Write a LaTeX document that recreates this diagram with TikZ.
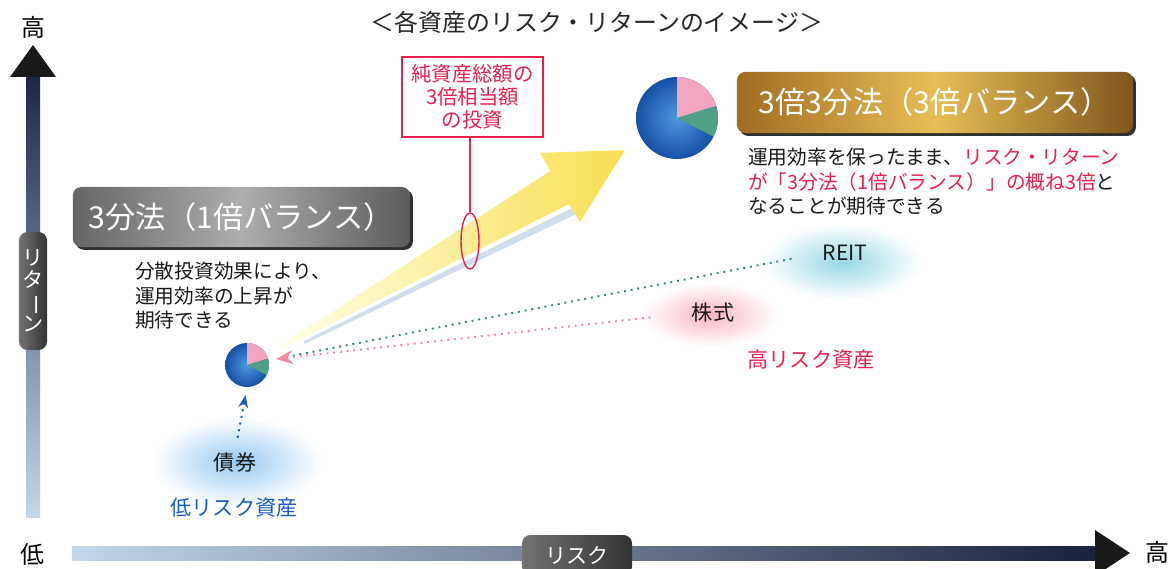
\documentclass[tikz,border=0pt]{standalone}
\usepackage{fontspec}
\setmainfont{Noto Sans CJK JP}
\usetikzlibrary{arrows.meta,shapes.geometric,shadows,fadings}

\definecolor{navy}{RGB}{30,40,70}
\definecolor{paleblue}{RGB}{195,215,232}
\definecolor{pinkred}{RGB}{232,32,80}
\definecolor{lowblue}{RGB}{25,90,190}
\definecolor{piepink}{RGB}{242,165,190}
\definecolor{piegreen}{RGB}{80,160,135}
\definecolor{pieblue}{RGB}{22,80,165}
\definecolor{pielight}{RGB}{75,155,225}
\definecolor{golddark}{RGB}{160,108,35}
\definecolor{goldlight}{RGB}{232,190,85}
\definecolor{yellowarr}{RGB}{248,222,80}
\definecolor{glint}{RGB}{208,222,234}
\definecolor{reitglow}{RGB}{150,215,228}
\definecolor{stockglow}{RGB}{248,180,192}
\definecolor{bondglow}{RGB}{150,200,242}
\definecolor{reitdot}{RGB}{55,135,125}
\definecolor{stockdot}{RGB}{238,140,165}

\tikzfading[name=glowfade, inner color=transparent!0, outer color=transparent!100]

\tikzset{
  headline/.style={font=\fontsize{17}{20}\selectfont, text=black!85},
  axislabel/.style={font=\fontsize{17}{20}\selectfont, inner sep=0pt},
  axistag/.style={rounded corners=6pt, left color=black!55, right color=black!80, text=white, font=\fontsize{15}{15.6}\selectfont, inner sep=2pt},
  banner/.style={rounded corners=6pt, text=white, font=\fontsize{21.5}{25}\selectfont, inner sep=0pt, drop shadow={shadow xshift=2pt, shadow yshift=-2pt, fill=black!90, opacity=.9}},
  grayband/.style={banner, left color=black!60, right color=black!64, middle color=black!32},
  goldband/.style={banner, left color=golddark, right color=golddark!80!black, middle color=goldlight},
  body/.style={font=\fontsize{14}{17.3}\selectfont, text=black!90, align=left, inner sep=0pt, anchor=north west},
  tag/.style={font=\fontsize{15}{18}\selectfont, text=black!90, inner sep=1pt},
  glow/.style={path fading=glowfade},
  dotline/.style={dash pattern=on 1.4pt off 3.4pt, line width=1.4pt}
}

\newcommand{\assetpie}[2]{%
  \shade[inner color=pielight, outer color=pieblue] (#1) circle[radius=#2];
  \fill[piepink] (#1.center) -- ++(90:#2) arc[start angle=90, end angle=17, radius=#2] -- cycle;
  \fill[piegreen] (#1.center) -- ++(17:#2) arc[start angle=17, end angle=-27, radius=#2] -- cycle;}

\begin{document}
\begin{tikzpicture}[x=0.025cm, y=0.025cm]
\clip (0,0) rectangle (1174,568);

% glows behind the assets
\fill[reitglow, glow] (842,306) ellipse[x radius=80, y radius=38];
\fill[stockglow, glow] (710,253) ellipse[x radius=68, y radius=32];
\fill[bondglow, glow] (237,106) ellipse[x radius=86, y radius=44];

\node[headline] (title) at (597,546) {＜各資産のリスク・リターンのイメージ＞};

% axes
\shade[top color=navy, bottom color=paleblue] (26,51) rectangle (40,491);
\fill[black!90] (10,491) -- (33,523) -- (56,491) -- cycle;
\node[axislabel] (yhigh) at (33,541) {高};
\node[axislabel] (ylow) at (32,14) {低};
\shade[left color=paleblue, right color=navy!85!black] (72,8) rectangle (1095,22);
\fill[black!90] (1095,-8) -- (1130,15) -- (1095,38) -- cycle;
\node[axislabel] (xhigh) at (1157,16) {高};
\node[axistag, minimum width=2.75cm, minimum height=1cm] (risk) at (577,13) {リスク};
\node[axistag, minimum width=0.7cm, minimum height=2.95cm, align=center] (ret) at (33,277) {リ\\タ\\\rotatebox[origin=c]{-90}{ー}\\ン};

% banners and notes
\node[grayband, minimum width=8.43cm, minimum height=1.5cm] (onefold) at (241.5,351) {3分法（1倍バランス）};
\node[goldband, minimum width=9.9cm, minimum height=1.53cm] (threefold) at (935,465.5) {3倍3分法（3倍バランス）};
\node[body] (onedesc) at (135,306) {分散投資効果により、\\運用効率の上昇が\\期待できる};
\node[body] (threedesc) at (748,420) {運用効率を保ったまま、\textcolor{pinkred}{リスク・リターン}\\\textcolor{pinkred}{が「3分法（1倍バランス）」の概ね3倍}と\\なることが期待できる};

% portfolios
\node[circle, minimum size=1.1cm, inner sep=0pt] (spie) at (247,203) {};
\node[circle, minimum size=2.05cm, inner sep=0pt] (bpie) at (677,450) {};
\assetpie{spie}{22}
\assetpie{bpie}{41}

% leverage arrow
\coordinate (ytail) at (283,222);
\begin{scope}[shift={(ytail)}, rotate=29.8]
\fill[glint] (20,-6) -- (319,-24) -- (319,-31) -- (20,-9) -- cycle;
\shade[left color=yellow!10, right color=yellowarr] (0,-2) -- (319,-19) -- (319,-40) -- (394,0) -- (319,40) -- (319,19) -- (0,2) -- cycle;
\end{scope}

\node[draw=pinkred, line width=1.1pt, text=pinkred, align=center, minimum width=3.52cm, minimum height=2cm, font=\fontsize{14.5}{16.5}\selectfont] (callout) at (472.5,471) {純資産総額の\\3倍相当額\\の投資};
\node[draw=pinkred, line width=1pt, ellipse, minimum width=0.45cm, minimum height=1.4cm, inner sep=0pt] (ring) at (470,327) {};
\draw[pinkred, line width=1pt] (callout.south -| ring.north) -- (ring.north);

% assets
\node[tag] (reit) at (845,315) {REIT};
\node[tag] (stock) at (713,255) {株式};
\node[tag, text=pinkred] (highrisk) at (811,208) {高リスク資産};
\node[tag] (bond) at (235,105) {債券};
\node[tag, text=lowblue] (lowrisk) at (234,60) {低リスク資産};

\coordinate (stip) at (276,209);
\draw[reitdot, dotline, shorten <=0.75cm, shorten >=0.3cm] (reit.west) -- (stip);
\draw[stockdot, dotline, shorten <=1cm, -{Stealth[length=12pt, width=10pt]}] (stock.west) -- (stip);
\draw[lowblue, dotline, shorten <=0.35cm, shorten >=0.2cm, -{Stealth[length=9pt, width=7pt]}] (bond.north) -- (spie.south);
\end{tikzpicture}
\end{document}
